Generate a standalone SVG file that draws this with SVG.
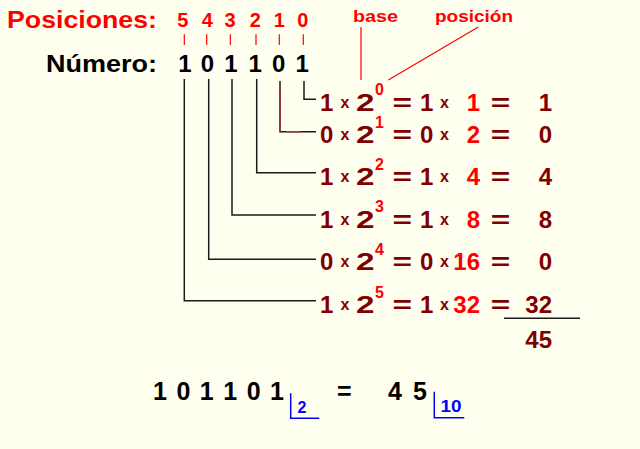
<svg xmlns="http://www.w3.org/2000/svg" width="640" height="449" viewBox="0 0 640 449">
<style>
text{font-family:"Liberation Sans",Arial,sans-serif;font-weight:bold}
.m{fill:#800000;font-size:24px}
.mx{fill:#800000;font-size:16px}
.r{fill:#ff0000;font-size:24px}
.rs{fill:#ff0000;font-size:16px}
.blk{fill:#000;font-size:24px}
.blue{fill:#0000ff;font-size:16px}
.conn{fill:none;stroke:#1a1a1a;stroke-width:1.5}
.rl{fill:none;stroke:#ff0000;stroke-width:1.2}
.bl{fill:none;stroke:#0000ff;stroke-width:1.5}
</style>
<rect width="640" height="449" fill="#fffff0"/>
<g id="header">
<text x="7" y="28" class="r" textLength="150" lengthAdjust="spacingAndGlyphs">Posiciones:</text>
<text class="r" style="font-size:20px" y="26.5"><tspan x="177.2">5</tspan> <tspan x="201.7">4</tspan> <tspan x="224.5">3</tspan> <tspan x="249.8">2</tspan> <tspan x="273.8">1</tspan> <tspan x="297.2">0</tspan></text>
<text x="46" y="72" class="blk" textLength="111" lengthAdjust="spacingAndGlyphs">Número:</text>
<text class="blk" y="72"><tspan x="178.3">1</tspan> <tspan x="200.7">0</tspan> <tspan x="224.3">1</tspan> <tspan x="248.6">1</tspan> <tspan x="272">0</tspan> <tspan x="295.6">1</tspan></text>
</g>
<g id="ticks" class="rl">
<path d="M184.3 34.3V45M206.7 34.3V45M230.3 34.3V45M256 34.3V45M279.3 34.3V45M303.3 34.3V45"/>
</g>
<g id="labels">
<text x="353" y="21.5" fill="#ff0000" style="font-size:17px" textLength="45" lengthAdjust="spacingAndGlyphs">base</text>
<text x="435" y="21.5" fill="#ff0000" style="font-size:17px" textLength="78" lengthAdjust="spacingAndGlyphs">posición</text>
<path class="rl" d="M361 27V80M478.3 27L388.3 80"/>
</g>
<g id="connectors">
<path class="conn" d="M304 81V99.3H316"/>
<path class="conn" d="M280 81V131.7H316"/>
<path d="M280 87V131.7M286 131.7H301" fill="none" stroke="#a83030" stroke-width="1.5"/>
<path class="conn" d="M256.7 79V172.7H316"/>
<path class="conn" d="M232 79V215H316"/>
<path class="conn" d="M208.7 79V259.3H316"/>
<path class="conn" d="M184.3 79V300.7H316"/>
</g>
<g id="row0">
<text x="320" y="110.5" class="m">1</text><text x="340.5" y="107.5" class="mx">x</text><text x="356" y="110.5" class="m" textLength="18.5" lengthAdjust="spacingAndGlyphs">2</text><text x="375" y="95" class="rs">0</text>
<text x="392.5" y="110.5" class="m" textLength="19.5" lengthAdjust="spacingAndGlyphs">=</text><text x="420" y="110.5" class="m">1</text><text x="440" y="107.5" class="mx">x</text>
<text x="480" y="110.5" class="r" text-anchor="end">1</text><text x="490.8" y="110.5" class="m" textLength="19.5" lengthAdjust="spacingAndGlyphs">=</text><text x="552" y="110.5" class="m" text-anchor="end">1</text>
</g>
<g id="row1">
<text x="320" y="143" class="m">0</text><text x="340.5" y="140" class="mx">x</text><text x="356" y="143" class="m" textLength="18.5" lengthAdjust="spacingAndGlyphs">2</text><text x="375" y="127.5" class="rs">1</text>
<text x="392.5" y="143" class="m" textLength="19.5" lengthAdjust="spacingAndGlyphs">=</text><text x="420" y="143" class="m">0</text><text x="440" y="140" class="mx">x</text>
<text x="480" y="143" class="r" text-anchor="end">2</text><text x="490.8" y="143" class="m" textLength="19.5" lengthAdjust="spacingAndGlyphs">=</text><text x="552" y="143" class="m" text-anchor="end">0</text>
</g>
<g id="row2">
<text x="320" y="185" class="m">1</text><text x="340.5" y="182" class="mx">x</text><text x="356" y="185" class="m" textLength="18.5" lengthAdjust="spacingAndGlyphs">2</text><text x="375" y="169.5" class="rs">2</text>
<text x="392.5" y="185" class="m" textLength="19.5" lengthAdjust="spacingAndGlyphs">=</text><text x="420" y="185" class="m">1</text><text x="440" y="182" class="mx">x</text>
<text x="480" y="185" class="r" text-anchor="end">4</text><text x="490.8" y="185" class="m" textLength="19.5" lengthAdjust="spacingAndGlyphs">=</text><text x="552" y="185" class="m" text-anchor="end">4</text>
</g>
<g id="row3">
<text x="320" y="227.5" class="m">1</text><text x="340.5" y="224.5" class="mx">x</text><text x="356" y="227.5" class="m" textLength="18.5" lengthAdjust="spacingAndGlyphs">2</text><text x="375" y="212" class="rs">3</text>
<text x="392.5" y="227.5" class="m" textLength="19.5" lengthAdjust="spacingAndGlyphs">=</text><text x="420" y="227.5" class="m">1</text><text x="440" y="224.5" class="mx">x</text>
<text x="480" y="227.5" class="r" text-anchor="end">8</text><text x="490.8" y="227.5" class="m" textLength="19.5" lengthAdjust="spacingAndGlyphs">=</text><text x="552" y="227.5" class="m" text-anchor="end">8</text>
</g>
<g id="row4">
<text x="320" y="270" class="m">0</text><text x="340.5" y="267" class="mx">x</text><text x="356" y="270" class="m" textLength="18.5" lengthAdjust="spacingAndGlyphs">2</text><text x="375" y="254.5" class="rs">4</text>
<text x="392.5" y="270" class="m" textLength="19.5" lengthAdjust="spacingAndGlyphs">=</text><text x="420" y="270" class="m">0</text><text x="440" y="267" class="mx">x</text>
<text x="480" y="270" class="r" text-anchor="end">16</text><text x="490.8" y="270" class="m" textLength="19.5" lengthAdjust="spacingAndGlyphs">=</text><text x="552" y="270" class="m" text-anchor="end">0</text>
</g>
<g id="row5">
<text x="320" y="313" class="m">1</text><text x="340.5" y="310" class="mx">x</text><text x="356" y="313" class="m" textLength="18.5" lengthAdjust="spacingAndGlyphs">2</text><text x="375" y="297.5" class="rs">5</text>
<text x="392.5" y="313" class="m" textLength="19.5" lengthAdjust="spacingAndGlyphs">=</text><text x="420" y="313" class="m">1</text><text x="440" y="310" class="mx">x</text>
<text x="480" y="313" class="r" text-anchor="end">32</text><text x="490.8" y="313" class="m" textLength="19.5" lengthAdjust="spacingAndGlyphs">=</text><text x="552" y="313" class="m" text-anchor="end">32</text>
</g>
<g id="sum">
<path class="conn" d="M504 318.3H580"/>
<text x="552" y="348" class="m" text-anchor="end">45</text>
</g>
<g id="result">
<text x="153" y="400" class="blk" style="font-size:25px" textLength="131" lengthAdjust="spacing">1 0 1 1 0 1</text>
<path class="bl" d="M290.7 393.3V418.3H319.3"/>
<text x="297.5" y="412.5" class="blue">2</text>
<text x="337" y="400" class="blk" style="font-size:25px">=</text>
<text x="388" y="400" class="blk" style="font-size:25px" textLength="39" lengthAdjust="spacing">4 5</text>
<path class="bl" d="M434.3 391.7V417.7H464.3"/>
<text x="440.5" y="411.8" class="blue" textLength="21" lengthAdjust="spacingAndGlyphs">10</text>
</g>
</svg>
